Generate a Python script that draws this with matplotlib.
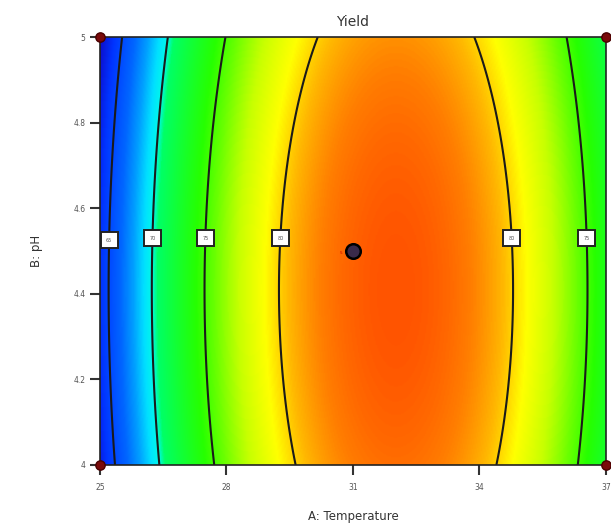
import numpy as np
import matplotlib.pyplot as plt
from matplotlib.colors import LinearSegmentedColormap

# fitted model for Yield, coded factors A (temperature) and B (pH) in [-1, 1]
coef_names = ['b0', 'A', 'B', 'A2', 'B2']
coef_vals = [82.54, 4.74, -0.43, -13.93, -1.18]

temp_range = [25, 37]
ph_range = [4, 5]

contour_levels = [65, 70, 75, 80]
label_ph = [4.525, 4.53, 4.53, 4.53]

# design points (factorial corners + centre)
design_temp = [25, 25, 37, 37]
design_ph = [4, 5, 4, 5]
center_temp = 31
center_ph = 4.5
center_reps = '5'

xticks = [25, 28, 31, 34, 37]
yticks = [4, 4.2, 4.4, 4.6, 4.8, 5]
ytick_labels = ['4', '4.2', '4.4', '4.6', '4.8', '5']


def yield_model(t, p):
    c = dict(zip(coef_names, coef_vals))
    a = (t - 31) / 6.0
    b = (p - 4.5) / 0.5
    return c['b0'] + c['A'] * a + c['B'] * b + c['A2'] * a ** 2 + c['B2'] * b ** 2


# Design-Expert style colour ramp
cmap = LinearSegmentedColormap.from_list('dx', [
    (0.00, (0.05, 0.05, 0.80)),
    (0.08, (0.00, 0.20, 1.00)),
    (0.20, (0.00, 0.40, 1.00)),
    (0.27, (0.00, 0.62, 1.00)),
    (0.33, (0.00, 0.88, 1.00)),
    (0.37, (0.00, 0.97, 0.92)),
    (0.40, (0.00, 1.00, 0.40)),
    (0.58, (0.15, 1.00, 0.00)),
    (0.655, (0.42, 1.00, 0.00)),
    (0.74, (0.78, 1.00, 0.00)),
    (0.82, (1.00, 1.00, 0.00)),
    (0.88, (1.00, 0.72, 0.00)),
    (0.94, (1.00, 0.50, 0.00)),
    (1.00, (1.00, 0.33, 0.00)),
])

fig = plt.figure(figsize=(6.11, 5.29), dpi=100)
ax = fig.add_axes([0.1637, 0.121, 0.828, 0.809])

tt = np.linspace(temp_range[0], temp_range[1], 400)
pp = np.linspace(ph_range[0], ph_range[1], 400)
T, P = np.meshgrid(tt, pp)
Z = yield_model(T, P)

ax.imshow(Z, extent=[temp_range[0], temp_range[1], ph_range[0], ph_range[1]],
          origin='lower', aspect='auto', cmap=cmap, interpolation='bilinear')
cs = ax.contour(T, P, Z, levels=contour_levels, colors='#1a1a1a', linewidths=1.5)

# label positions: where each contour crosses the label pH (left and right branches)
manual = []
for lev, ph in zip(contour_levels, label_ph):
    row = yield_model(tt, ph)
    idx = np.where(np.diff(np.sign(row - lev)) != 0)[0]
    for i in idx:
        manual.append((tt[i], ph))
labels = ax.clabel(cs, manual=manual, inline=False, fmt='%d', fontsize=3.5, colors='#555555')
for lab in labels:
    lab.set_rotation(0)
    lab.set_bbox(dict(boxstyle='square,pad=1.1', facecolor='white', edgecolor='#222222', linewidth=1.4))

ax.scatter(design_temp, design_ph, s=45, color='#7a0a0a', edgecolors='#4a0000', zorder=5, clip_on=False)
ax.scatter([center_temp], [center_ph], s=110, color='#3a2a4a', edgecolors='black', linewidths=1.8, zorder=5)
ax.text(center_temp - 0.28, center_ph - 0.005, center_reps, color='#cc0000', fontsize=3, ha='center', va='center')

ax.set_xlim(temp_range)
ax.set_ylim(ph_range)
ax.set_xticks(xticks)
ax.set_yticks(yticks)
ax.set_yticklabels(ytick_labels)
ax.tick_params(direction='out', length=7, width=1.5, color='#333333', labelsize=5.5, labelcolor='#555555')
ax.tick_params(axis='x', pad=6)
ax.tick_params(axis='y', pad=3.5)
for s in ax.spines.values():
    s.set_color('#222222')
    s.set_linewidth(1.2)

ax.set_title('Yield', fontsize=10, color='#333333', pad=8)
ax.set_xlabel('A: Temperature', fontsize=8.5, color='#333333', labelpad=13)
ax.set_ylabel('B: pH', fontsize=8.5, color='#333333', labelpad=22)

fig.savefig('out.png', dpi=100)
